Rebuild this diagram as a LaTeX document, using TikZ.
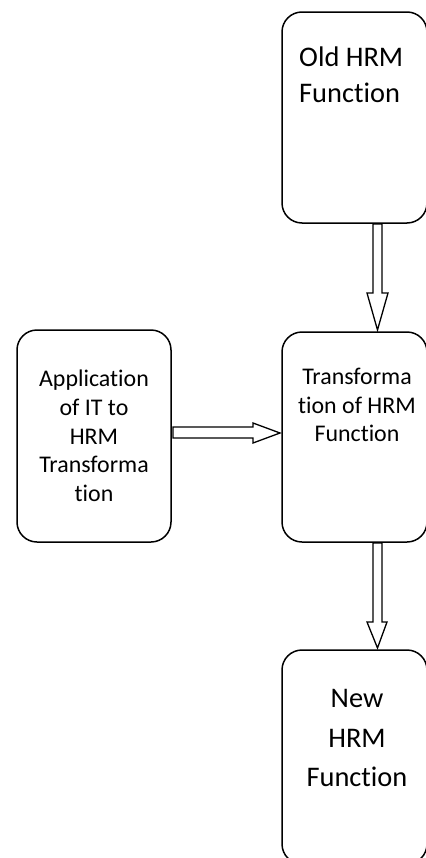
\documentclass[tikz,border=0pt]{standalone}
\usepackage{fontspec}
\setmainfont{Carlito}[Ligatures={NoCommon,NoRequired,NoContextual}]
\begin{document}
\begin{tikzpicture}[x=1bp,y=-1bp,
  box/.style={draw=black, line width=1.5bp, rounded corners=20bp, fill=white},
  blockarr/.style={draw=black, line width=1.3bp, fill=white, line join=miter},
  bigtxt/.style={inner sep=0pt, font=\fontsize{28.5}{36}\selectfont},
  smalltxt/.style={inner sep=0pt, align=center, font=\fontsize{24}{28.8}\selectfont}]
\useasboundingbox (0,0) rectangle (425,858);
% boxes
\draw[box] (282,12) rectangle (427,223);
\coordinate (oldS) at (354,223);
\draw[box] (282,332) rectangle (427,542);
\coordinate (transS) at (354,542);
\draw[box] (17,330) rectangle (171,542);
\coordinate (appE) at (171,436);
\draw[box] (282,650) rectangle (427,864);
% texts
\node[bigtxt, anchor=west, align=left] (oldtxt) at (299,75) {Old HRM\\Function};
\node[smalltxt] (transtxt) at (357,405) {Transforma\\tion of HRM\\Function};
\node[smalltxt] (apptxt) at (94,436) {Application\\of IT to\\HRM\\Transforma\\tion};
\node[bigtxt, align=center, font=\fontsize{28.5}{40}\selectfont] (newtxt) at (357,738) {New\\HRM\\Function};
% block arrows
\draw[blockarr, shift={(oldS)}] (19,1) -- (28,1) -- (28,70) -- (34,70) -- (23.5,107) -- (13,70) -- (19,70) -- cycle;
\draw[blockarr, shift={(transS)}] (19,1) -- (28,1) -- (28,80) -- (33,80) -- (23.5,106) -- (13,80) -- (19,80) -- cycle;
\draw[blockarr, shift={(appE)}] (2,-9) -- (82,-9) -- (82,-13) -- (109,-3) -- (82,7) -- (82,2) -- (2,2) -- cycle;
\end{tikzpicture}
\end{document}
